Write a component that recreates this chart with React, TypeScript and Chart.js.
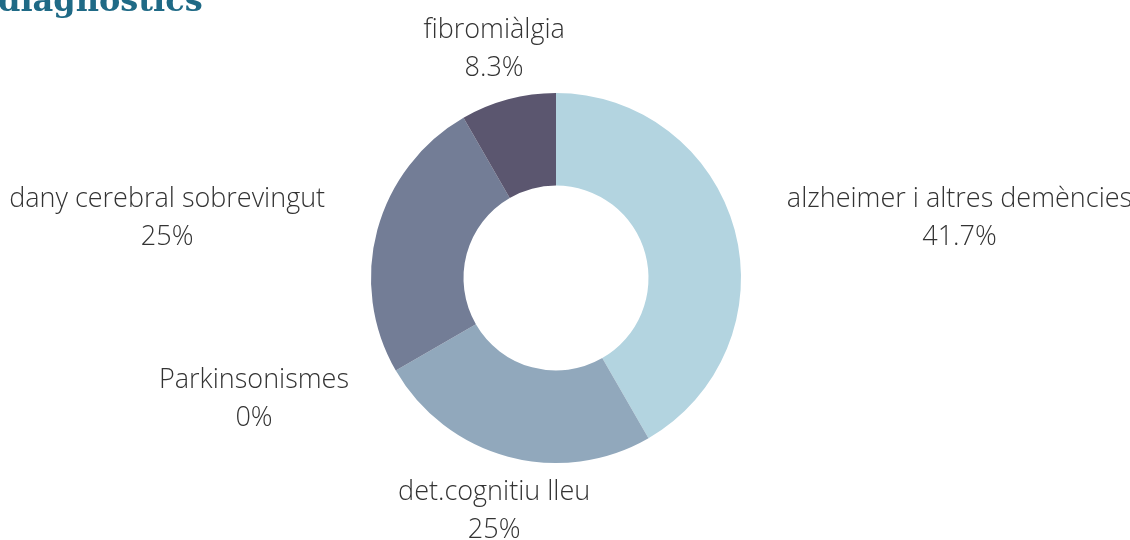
import React, { useEffect, useRef } from "react";
import { Chart, registerables } from "chart.js";

Chart.register(...registerables);

const titleText = "diagnostics";
const categories = [
  "alzheimer i altres demències",
  "det.cognitiu lleu",
  "Parkinsonismes",
  "dany cerebral sobrevingut",
  "fibromiàlgia",
];
const values = [5, 3, 0, 3, 1];
const colors = ["#b3d4e0", "#91a8bc", "#a2b5c8", "#737d96", "#5b566f"];

const fmtPct = (v: number, total: number) => {
  const p = total ? (v / total) * 100 : 0;
  let s = p.toFixed(1);
  if (s.endsWith(".0")) s = s.slice(0, -2);
  return s + "%";
};

const labelPlugin = {
  id: "outerLabels",
  afterDraw(chart: any) {
    const ctx = chart.ctx;
    const meta = chart.getDatasetMeta(0);
    const data = chart.data.datasets[0].data as number[];
    const total = data.reduce((a, b) => a + b, 0);
    ctx.save();
    ctx.font = "300 27px 'Open Sans'";
    ctx.fillStyle = "#333333";
    ctx.textBaseline = "middle";
    ctx.textAlign = "center";
    meta.data.forEach((arc: any, i: number) => {
      const p = arc.getProps(["x", "y", "startAngle", "endAngle", "outerRadius"], true);
      const mid = (p.startAngle + p.endAngle) / 2;
      const R = p.outerRadius + 54;
      const px = p.x + Math.cos(mid) * R;
      const py = p.y + Math.sin(mid) * R + 2;
      const lines = [String(chart.data.labels[i]), fmtPct(data[i], total)];
      const w = Math.max(...lines.map((l) => ctx.measureText(l).width));
      const c = Math.cos(mid);
      let cx = px;
      if (Math.abs(c) > 0.5) cx = c > 0 ? px + w / 2 : px - w / 2;
      const lh = 38;
      lines.forEach((l, k) => {
        ctx.fillText(l, cx, py + (k - (lines.length - 1) / 2) * lh);
      });
    });
    ctx.restore();
  },
};

const titlePlugin = {
  id: "cutTitle",
  afterDraw(chart: any) {
    const ctx = chart.ctx;
    ctx.save();
    ctx.font = "bold 32px 'DejaVu Serif'";
    ctx.fillStyle = "#1f6a86";
    ctx.textAlign = "left";
    ctx.textBaseline = "alphabetic";
    ctx.fillText(titleText, -2, 11);
    ctx.restore();
  },
};

export default function App() {
  const ref = useRef<HTMLCanvasElement>(null);
  useEffect(() => {
    document.body.style.margin = "0";
    const chart = new Chart(ref.current!, {
      type: "doughnut",
      data: {
        labels: categories,
        datasets: [
          {
            data: values,
            backgroundColor: colors,
            borderWidth: 0,
          },
        ],
      },
      options: {
        responsive: false,
        animation: false,
        cutout: "50%",
        layout: { padding: { left: 371, right: 389, top: 93, bottom: 77 } },
        plugins: {
          legend: { display: false },
          tooltip: { enabled: false },
        },
      },
      plugins: [labelPlugin, titlePlugin],
    });
    return () => chart.destroy();
  }, []);
  return <canvas ref={ref} width={1130} height={540} style={{ display: "block" }} />;
}
